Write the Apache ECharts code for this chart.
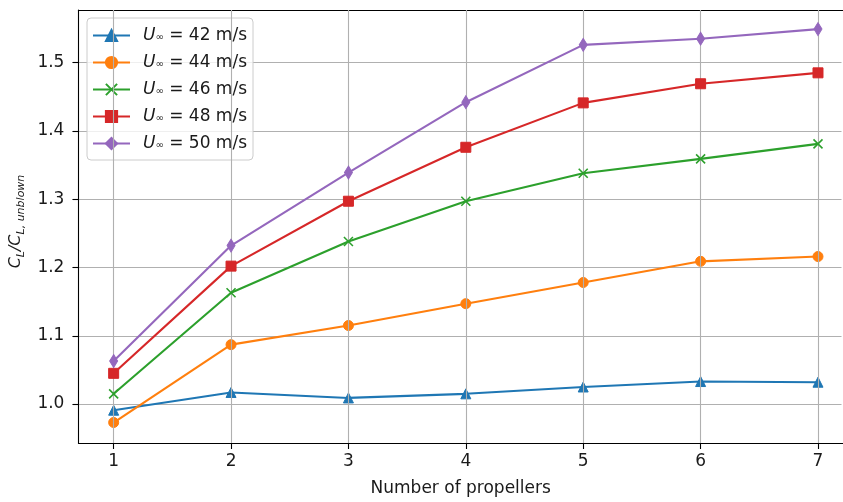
<!DOCTYPE html>
<html>
<head>
<meta charset="utf-8">
<script src="https://cdn.jsdelivr.net/npm/echarts@6/dist/echarts.min.js"></script>
<style>
  html, body { margin: 0; padding: 0; background: #fff; }
  #chart { width: 843px; height: 502px; }
</style>
</head>
<body>
<div id="chart"></div>
<script>
// Number of propellers on the wing
const propellers = [1, 2, 3, 4, 5, 6, 7];

// Lift ratio C_L / C_L,unblown for each free-stream velocity
const speeds = [42, 44, 46, 48, 50];
const cl42 = [0.991, 1.017, 1.009, 1.015, 1.025, 1.033, 1.032];
const cl44 = [0.973, 1.087, 1.115, 1.147, 1.178, 1.209, 1.216];
const cl46 = [1.015, 1.163, 1.238, 1.297, 1.338, 1.359, 1.381];
const cl48 = [1.045, 1.202, 1.297, 1.376, 1.441, 1.469, 1.485];
const cl50 = [1.063, 1.232, 1.339, 1.442, 1.526, 1.535, 1.549];

// Tick values
const xTicks = [1, 2, 3, 4, 5, 6, 7];
const yTicks = [1.0, 1.1, 1.2, 1.3, 1.4, 1.5];

const colors = ['#1f77b4', '#ff7f0e', '#2ca02c', '#d62728', '#9467bd'];
const seriesValues = [cl42, cl44, cl46, cl48, cl50];
const crossPath = 'path://M0,0L10,10M10,0L0,10';
const markers = [
  { symbol: 'triangle', size: 10 },
  { symbol: 'circle', size: 10 },
  { symbol: crossPath, size: 9 },
  { symbol: 'rect', size: 10 },
  { symbol: 'diamond', size: [8, 13] }
];

const FONT = 'DejaVu Sans';
const TEXT = '#1a1a1a';
const GRID_COLOR = '#b0b0b0';
// the x range ends right at the canvas edge (the axes box continues past it)
const X_MIN = 0.7, X_MAX = 7.213;
const Y_MIN = 0.943, Y_MAX = 1.577;

const series = speeds.map((u, i) => {
  const isCross = markers[i].symbol === crossPath;
  return {
    name: 'U' + u,
    type: 'line',
    xAxisIndex: 0,
    yAxisIndex: 0,
    data: propellers.map((p, j) => [p, seriesValues[i][j]]),
    symbol: markers[i].symbol,
    symbolSize: markers[i].size,
    showAllSymbol: true,
    z: 3 + i,
    lineStyle: { color: colors[i], width: 2.1 },
    itemStyle: {
      color: colors[i],
      borderColor: colors[i],
      borderWidth: isCross ? 1.6 : 1,
      opacity: 1
    },
    emphasis: { disabled: true },
    animation: false
  };
});

// vertical grid lines at the x ticks
series.push({
  name: 'xgrid',
  type: 'line',
  data: [],
  z: 1,
  silent: true,
  animation: false,
  markLine: {
    silent: true,
    symbol: ['none', 'none'],
    label: { show: false },
    lineStyle: { color: GRID_COLOR, width: 1.1, type: 'solid' },
    emphasis: { disabled: true },
    animation: false,
    data: xTicks.map(v => ({ xAxis: v }))
  }
});

const chart = echarts.init(document.getElementById('chart'), null, { renderer: 'canvas' });

chart.setOption({
  animation: false,
  backgroundColor: '#ffffff',
  textStyle: { fontFamily: FONT },
  grid: { left: 77.5, right: 0, top: 10, bottom: 58, containLabel: false },
  // keep the open right side of the axes box clean at the canvas edge
  graphic: [{
    type: 'rect',
    right: 0,
    top: 11,
    shape: { width: 1.5, height: 432 },
    style: { fill: '#ffffff' },
    z: 100,
    silent: true
  }],
  legend: {
    left: 87,
    top: 18,
    orient: 'vertical',
    padding: [9, 6, 8, 5],
    itemGap: 10,
    itemWidth: 37,
    itemHeight: 14,
    backgroundColor: 'rgba(255,255,255,0.8)',
    borderColor: '#cccccc',
    borderWidth: 1,
    borderRadius: 4,
    selectedMode: false,
    data: speeds.map(u => 'U' + u),
    formatter: name => '{g|}{u|U}{s|∞}{t| = ' + name.slice(1) + ' m/s}',
    textStyle: {
      fontFamily: FONT,
      fontSize: 17,
      color: TEXT,
      lineHeight: 14,
      rich: {
        g: { width: 8, lineHeight: 14 },
        u: { fontFamily: FONT, fontStyle: 'italic', fontSize: 17, color: TEXT, lineHeight: 14 },
        s: { fontFamily: FONT, fontSize: 10, color: TEXT, lineHeight: 6, verticalAlign: 'bottom' },
        t: { fontFamily: FONT, fontSize: 17, color: TEXT, lineHeight: 14 }
      }
    }
  },
  xAxis: [{
    type: 'value',
    min: X_MIN,
    max: X_MAX,
    name: 'Number of propellers',
    nameLocation: 'middle',
    nameGap: 37,
    nameTextStyle: { fontFamily: FONT, fontSize: 17, color: TEXT },
    axisLine: { show: true, onZero: false, lineStyle: { color: '#000', width: 1.1 } },
    axisTick: { show: true, length: 6, inside: false, customValues: xTicks, lineStyle: { color: '#000', width: 1.1 } },
    axisLabel: { customValues: xTicks, margin: 10, fontFamily: FONT, fontSize: 17, color: TEXT, formatter: v => String(v) },
    splitLine: { show: false }
  }, {
    // top frame line of the plotting area
    type: 'value',
    position: 'top',
    min: X_MIN,
    max: X_MAX,
    axisLine: { show: true, onZero: false, lineStyle: { color: '#000', width: 1.1 } },
    axisTick: { show: false },
    axisLabel: { show: false },
    splitLine: { show: false }
  }],
  yAxis: {
    type: 'value',
    min: Y_MIN,
    max: Y_MAX,
    name: '{c|C}{b|L}{c|/C}{b|L, unblown}',
    nameLocation: 'middle',
    nameGap: 44,
    nameRotate: 90,
    nameTextStyle: {
      fontFamily: FONT,
      color: TEXT,
      padding: [0, 0, 0, 10],
      rich: {
        c: { fontFamily: FONT, fontStyle: 'italic', fontSize: 16, color: TEXT, lineHeight: 21 },
        b: { fontFamily: FONT, fontStyle: 'italic', fontSize: 11, color: TEXT, lineHeight: 12, verticalAlign: 'bottom' }
      }
    },
    axisLine: { show: true, lineStyle: { color: '#000', width: 1.1 } },
    axisTick: { show: true, length: 6, inside: false, customValues: yTicks, lineStyle: { color: '#000', width: 1.1 } },
    axisLabel: { customValues: yTicks, margin: 14, fontFamily: FONT, fontSize: 17, color: TEXT, formatter: v => v.toFixed(1) },
    splitLine: { show: true, lineStyle: { color: GRID_COLOR, width: 1.1 } }
  },
  series: series
});
</script>
</body>
</html>
